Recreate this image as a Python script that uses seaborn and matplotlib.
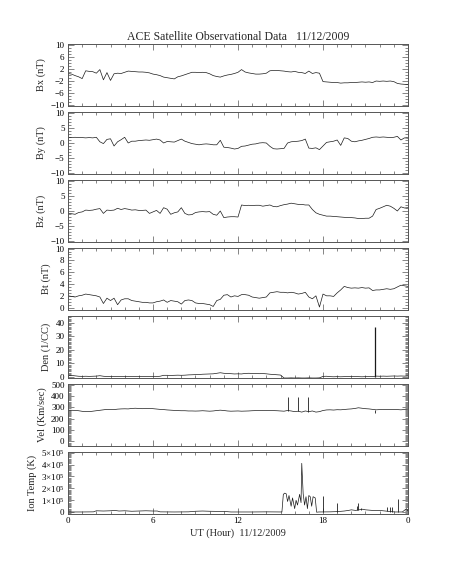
import numpy as np
import matplotlib
matplotlib.use("Agg")
import matplotlib.pyplot as plt
from matplotlib.ticker import MultipleLocator, FixedLocator, FixedFormatter
import seaborn as sns

# %%
# values, 15-min steps (0 .. 24 UT)
hours = np.arange(0, 24.01, 0.25)

bx = [0.5, 0.3, -0.2, -0.6, -1.2, 1.4, 1.2, 1.1,
      0.6, 1.8, -1.6, 0.8, -1.8, 0.4, 0.6, 0.5,
      0.9, 1.3, 1.2, 1.1, 1.0, 1.0, 0.9, 0.7,
      0.3, 0.1, -0.2, -0.7, -0.9, -1.1, -1.3, -0.6,
      -0.3, 0.1, 0.5, 0.9, 0.9, 0.8, 0.9, 0.8,
      0.4, -0.2, -0.5, -0.7, -0.3, 0.0, 0.2, 0.5,
      0.9, 1.8, 1.0, 0.7, 0.5, 0.3, 0.3, 0.4,
      0.6, 1.4, 1.5, 1.5, 1.4, 1.3, 1.1, 1.0,
      1.2, 0.9, 0.8, 0.5, 1.3, 0.5, 0.8, 0.6,
      -2.2, -2.3, -2.4, -2.5, -2.5, -2.7, -2.6, -2.6,
      -2.5, -2.5, -2.4, -2.3, -2.4, -2.3, -2.5, -2.0,
      -2.1, -2.0, -2.1, -2.0, -2.2, -2.8, -3.0, -3.1,
      -3.2]

by = [1.9, 1.8, 1.9, 1.8, 1.8, 1.7, 1.8, 1.7,
      1.9, 0.4, -0.2, 1.2, 1.4, -1.0, 0.4, 1.1,
      1.9, 0.0, 0.6, 0.6, 0.8, 0.9, 1.0, 0.9,
      1.1, 1.3, 1.0, 0.0, 0.5, 0.4, 0.3, 0.8,
      1.3, 0.6, 0.2, -0.2, -0.4, -0.6, -0.4, -0.3,
      -0.4, -0.6, -0.6, 0.9, -1.4, -1.5, -1.7, -2.0,
      -1.8, -1.1, -1.0, -0.7, -0.4, -0.3, 0.0, 0.1,
      0.0, -1.1, -1.9, -2.0, -1.9, -1.8, 0.0, 0.4,
      0.5, 0.6, 0.8, 1.3, -1.7, -1.8, -1.6, -2.2,
      -1.0, 0.2, 0.4, 0.6, 1.0, -0.8, 1.7, 1.5,
      0.6, 0.4, 0.7, 0.9, 1.2, 1.5, 1.9, 2.0,
      1.9, 2.0, 1.9, 1.8, 1.9, 2.2, 1.0, 1.7,
      1.6]

bz = [-0.8, -0.9, -1.1, -0.5, -0.3, 0.3, 0.2, 0.3,
      0.6, 0.8, -0.8, 0.3, 0.2, 0.3, 0.9, 0.5,
      0.8, 0.6, 0.3, 0.4, 0.2, 0.2, 0.3, -0.8,
      -0.3, 0.2, -0.8, 1.1, 0.6, -1.1, -0.6, -0.3,
      1.1, -0.8, -1.3, -1.2, -0.5, -0.3, -0.2, -0.3,
      -0.2, -1.1, -1.4, 0.0, -2.2, -2.0, -1.9, -1.9,
      -2.0, 2.0, 1.8, 1.9, 1.8, 1.9, 1.9, 1.6,
      1.8, 2.0, 1.5, 1.4, 1.8, 2.1, 2.3, 2.6,
      2.4, 2.2, 2.2, 2.0, 2.0, 0.5, -0.6, -1.1,
      -1.4, -1.7, -1.7, -1.8, -1.9, -2.0, -2.1, -2.2,
      -2.2, -2.3, -2.5, -2.5, -2.4, -2.4, -1.7, 0.5,
      0.9, 1.4, 1.9, 1.6, 0.9, 0.0, 1.4, 1.0,
      1.1]

bt = [2.0, 1.9, 1.8, 2.0, 2.1, 2.3, 2.2, 2.1,
      2.0, 1.8, 0.7, 1.6, 1.2, 1.6, 0.5, 1.3,
      1.5, 1.5, 1.2, 1.1, 1.0, 0.9, 0.9, 0.8,
      0.8, 1.0, 1.1, 1.3, 0.9, 1.2, 1.1, 1.0,
      0.6, 1.2, 1.3, 1.2, 0.8, 0.7, 0.7, 0.6,
      0.5, 0.2, 1.2, 1.4, 2.1, 2.2, 1.8, 2.0,
      1.9, 2.2, 2.2, 2.1, 1.8, 1.7, 1.6, 1.7,
      1.8, 2.5, 2.6, 2.7, 2.6, 2.6, 2.5, 2.6,
      2.5, 2.3, 2.4, 2.6, 1.8, 1.5, 2.0, 0.1,
      2.3, 2.0, 2.0, 1.9, 2.5, 3.0, 3.6, 3.4,
      3.3, 3.35, 3.3, 3.4, 3.3, 3.35, 2.9, 3.0,
      3.0, 3.1, 3.2, 3.1, 3.2, 3.5, 3.8, 3.7,
      3.6]

den = [1.0, 0.9, 0.6, 0.3, 0.2, 0.3, 0.2, 0.3,
       0.4, 0.7, 0.3, 0.1, 0.2, 0.1, 0.0, 0.1,
       0.0, 0.1, 0.0, 0.1, 0.0, 0.1, 0.0, 0.1,
       0.0, 0.1, 0.3, 1.0, 1.0, 0.9, 1.0, 1.1,
       1.0, 1.1, 1.3, 1.4, 1.5, 1.6, 1.8, 1.9,
       2.0, 2.1, 2.5, 2.9, 2.5, 2.3, 2.2, 2.0,
       2.1, 2.0, 2.4, 2.5, 2.4, 2.3, 2.2, 2.3,
       2.1, 1.8, 1.6, 1.4, 1.2, -1.0, -1.0, -0.9,
       -1.0, -0.9, -1.0, -1.0, -0.9, -1.0, -1.0, -0.9,
       0.2, 0.3, 0.0, -0.1, 0.0, -0.1, 0.0, 0.1,
       0.0, 0.1, 0.0, -0.1, 0.0, 0.1, 0.0, 0.4,
       0.3, 0.4, 0.3, 0.4, 0.5, 0.4, 0.5, 0.4,
       0.5]

vel = [275, 274, 273, 270, 265, 262, 262, 266,
       270, 274, 278, 282, 282, 280, 284, 286,
       287, 286, 290, 292, 290, 288, 291, 290,
       288, 285, 282, 280, 277, 275, 273, 271,
       270, 270, 268, 268, 267, 268, 270, 268,
       266, 268, 272, 275, 272, 268, 266, 267,
       268, 266, 267, 268, 270, 271, 272, 271,
       271, 272, 271, 270, 268, 266, 272, 268,
       262, 266, 258, 268, 262, 268, 258, 262,
       272, 277, 278, 276, 279, 278, 281, 284,
       286, 290, 296, 292, 288, 286, 282, 278,
       280, 282, 280, 281, 282, 280, 278, 281,
       283]

# ion temperature (units of 1e5 K), uneven sampling around the noisy stretch
temp_hours = [0.0, 1.0, 1.8, 2.0, 2.5, 3.0, 3.3, 3.6, 4.0, 4.5, 5.0, 5.5, 6.0, 6.3,
              6.5, 7.5, 8.5, 9.0, 9.5, 10.0, 10.5, 11.2, 11.5, 13.0, 14.0, 15.1,
              15.2, 15.3, 15.4, 15.5, 15.6, 15.75, 15.85, 16.0, 16.1, 16.2, 16.35,
              16.45, 16.5, 16.6, 16.7, 16.8, 16.9, 17.0, 17.1, 17.2, 17.3, 17.45,
              17.55, 17.7, 18.5, 19.0, 19.5, 19.8, 20.0, 20.3, 20.8, 21.0, 21.5,
              22.0, 22.4, 22.8, 23.1, 23.6, 23.9, 24.0]
temp = [0.02, 0.02, 0.03, 0.12, 0.10, 0.12, 0.15, 0.10, 0.12, 0.08, 0.10, 0.12, 0.10, 0.10,
        0.03, 0.02, 0.03, 0.08, 0.10, 0.08, 0.07, 0.05, 0.02, 0.02, 0.03, 0.02,
        1.5, 1.6, 1.55, 0.9, 1.4, 0.5, 1.2, 0.3, 1.0, 0.6, 1.5,
        0.8, 4.1, 1.55, 0.6, 1.3, 0.3, 1.4, 1.3, 0.5, 1.3, 1.2,
        0.0, 0.02, 0.03, 0.05, 0.10, 0.15, 0.20, 0.15, 0.25, 0.20, 0.15,
        0.15, 0.10, 0.05, 0.02, 0.02, 0.30, 0.10]

# narrow spikes: time, base, top
den_spk_t, den_spk_lo, den_spk_hi = [21.66], [0.0], [37.0]
vel_spk_t = [15.5, 16.27, 16.92, 21.7]
vel_spk_lo = [270, 266, 262, 280]
vel_spk_hi = [394, 391, 394, 248]
temp_spk_t = [17.97, 18.97, 20.4, 20.5, 20.65, 22.55, 22.75, 22.85, 23.3]
temp_spk_lo = [0.02, 0.05, 0.15, 0.15, 0.2, 0.1, 0.05, 0.05, 0.02]
temp_spk_hi = [1.35, 0.75, 0.55, 0.75, 0.35, 0.4, 0.45, 0.45, 1.15]

# %%
sns.set_style("ticks")
plt.rcParams['font.family'] = ['Liberation Serif', 'DejaVu Serif']
plt.rcParams['mathtext.fontset'] = 'custom'
plt.rcParams['mathtext.rm'] = 'Liberation Serif'
plt.rcParams['mathtext.default'] = 'regular'

W, H = 453, 566
fig = plt.figure(figsize=(W / 100, H / 100), dpi=100)

panels = [
    (hours, bx, 'Bx (nT)', (-10.3, 10.3), [-10, -6, -2, 2, 6, 10], 1),
    (hours, by, 'By (nT)', (-10.3, 10.3), [-10, -5, 0, 5, 10], 1),
    (hours, bz, 'Bz (nT)', (-10.3, 10.3), [-10, -5, 0, 5, 10], 1),
    (hours, bt, 'Bt (nT)', (-0.4, 10.1), [0, 2, 4, 6, 8, 10], 0.5),
    (hours, den, 'Den (1/CC)', (-1.0, 45), [0, 10, 20, 30, 40], 1),
    (hours, vel, 'Vel (Km/sec)', (-40, 505), [0, 100, 200, 300, 400, 500], 10),
    (temp_hours, temp, 'Ion Temp (K)', (-0.15, 5.05), [0, 1, 2, 3, 4, 5], 0.1),
]

line_col = '#1a1a1a'
axes = []
for i, (x, y, lab, ylim, yt, ymin) in enumerate(panels):
    top = 44 + 68 * i
    ax = fig.add_axes([68 / W, 1 - (top + 62) / H, 340 / W, 62 / H])
    sns.lineplot(x=x, y=y, ax=ax, color=line_col, linewidth=0.5, estimator=None)
    ax.set_xlim(0, 24)
    ax.set_ylim(*ylim)
    ax.yaxis.set_major_locator(FixedLocator(yt))
    ax.yaxis.set_minor_locator(MultipleLocator(ymin))
    ax.xaxis.set_major_locator(FixedLocator([0, 6, 12, 18, 24]))
    ax.xaxis.set_minor_locator(MultipleLocator(1))
    ax.tick_params(which='both', direction='in', top=True, right=True,
                   labelsize=6.5, width=0.5, colors='#555555', labelcolor='k', pad=2.5)
    ax.tick_params(which='major', length=4)
    ax.tick_params(which='minor', length=2)
    for s in ax.spines.values():
        s.set_linewidth(0.7)
        s.set_color('#555555')
    ax.set_ylabel(lab, fontsize=7.5, labelpad=3)
    if i < len(panels) - 1:
        ax.set_xticklabels([])
    axes.append(ax)

axes[4].vlines(den_spk_t, den_spk_lo, den_spk_hi, color=line_col, linewidth=0.9)
axes[5].vlines(vel_spk_t, vel_spk_lo, vel_spk_hi, color=line_col, linewidth=0.6)
axes[6].vlines(temp_spk_t, temp_spk_lo, temp_spk_hi, color=line_col, linewidth=0.6)

axes[6].yaxis.set_major_formatter(FixedFormatter(
    ['0'] + [r'%d$\times$10$^{5}$' % k for k in range(1, 6)]))
axes[6].set_xticklabels(['0', '6', '12', '18', '0'])
axes[6].set_xlabel('UT (Hour)  11/12/2009', fontsize=7.5, labelpad=2)

axes[0].set_title('ACE Satellite Observational Data   11/12/2009', fontsize=8.5, pad=3)

plt.savefig('out.png', dpi=100)
